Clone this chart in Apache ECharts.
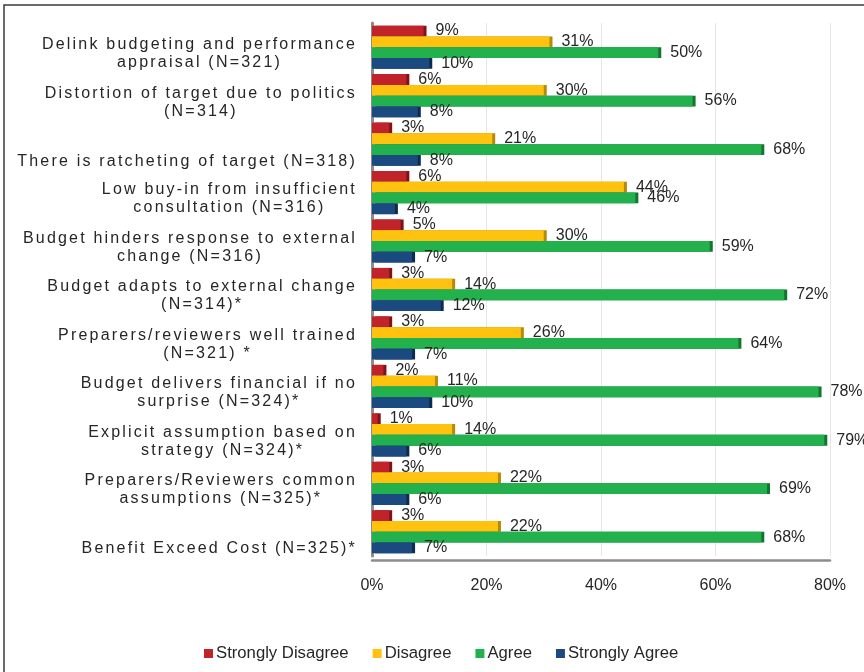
<!DOCTYPE html>
<html>
<head>
<meta charset="utf-8">
<script src="https://cdn.jsdelivr.net/npm/echarts@6/dist/echarts.min.js"></script>
<style>
html,body{margin:0;padding:0;background:#fff;}
#chart{width:864px;height:672px;}
</style>
</head>
<body>
<div id="chart"></div>
<script>
// ---- data ----
const categories = [
  "Delink budgeting and performance\nappraisal (N=321)",
  "Distortion of target due to politics\n(N=314)",
  "There is ratcheting of target (N=318)",
  "Low buy-in from insufficient\nconsultation (N=316)",
  "Budget hinders response to external\nchange (N=316)",
  "Budget adapts to external change\n(N=314)*",
  "Preparers/reviewers well trained\n(N=321) *",
  "Budget delivers financial if no\nsurprise (N=324)*",
  "Explicit assumption based on\nstrategy (N=324)*",
  "Preparers/Reviewers common\nassumptions (N=325)*",
  "Benefit Exceed Cost (N=325)*"
];
const seriesNames = ["Strongly Disagree", "Disagree", "Agree", "Strongly Agree"];
const stronglyDisagree = [9, 6, 3, 6, 5, 3, 3, 2, 1, 3, 3];
const disagree         = [31, 30, 21, 44, 30, 14, 26, 11, 14, 22, 22];
const agree            = [50, 56, 68, 46, 59, 72, 64, 78, 79, 69, 68];
const stronglyAgree    = [10, 8, 8, 4, 7, 12, 7, 10, 6, 6, 7];
const xTicks = [0, 20, 40, 60, 80];

// ---- letter-spaced category labels (canvas letterSpacing for one font family) ----
(function () {
  const P = CanvasRenderingContext2D.prototype;
  const setLS = function (ctx) {
    ctx.letterSpacing = /Liberation Sans/.test(ctx.font) ? '2.2px' : '0px';
  };
  const mt = P.measureText, ft = P.fillText, st = P.strokeText;
  P.measureText = function (t) { setLS(this); return mt.call(this, t); };
  P.fillText = function () { setLS(this); return ft.apply(this, arguments); };
  P.strokeText = function () { setLS(this); return st.apply(this, arguments); };
})();

const colors = ['#C1232B', '#FFC20E', '#22B14C', '#1B4A80'];
const capColors = ['#7E1418', '#B58A0A', '#127530', '#0E2B4F'];
const dataSets = [stronglyDisagree, disagree, agree, stronglyAgree];

const chart = echarts.init(document.getElementById('chart'), null, {renderer: 'canvas'});

const txt = {fontFamily: 'Liberation Sans', fontSize: 16, color: '#262626', align: 'center', lineHeight: 18};
const labelRich = {
  t: txt,
  sp2: {fontSize: 1, lineHeight: 13},
  sp1: {fontSize: 1, lineHeight: 34}
};

const option = {
  animation: false,
  textStyle: {fontFamily: 'Arial'},
  graphic: [{
    type: 'rect', silent: true, z: -1,
    shape: {x: 4, y: 5, width: 900, height: 700},
    style: {fill: 'none', stroke: '#3a3a3a', lineWidth: 1.5}
  }],
  legend: {
    data: seriesNames,
    left: 199, top: 640,
    itemWidth: 9, itemHeight: 9, itemGap: 24,
    icon: 'rect',
    textStyle: {fontFamily: 'Arial', fontSize: 16.7, color: '#262626', padding: [0, 0, 0, -2]}
  },
  grid: {left: 372, width: 458, top: 23, height: 533},
  xAxis: {
    type: 'value', min: xTicks[0], max: xTicks[xTicks.length - 1], interval: 20,
    offset: 4,
    axisLine: {show: true, lineStyle: {color: '#8c8c8c', width: 2.5}},
    axisTick: {show: false},
    axisLabel: {formatter: '{value}%', fontFamily: 'Arial', fontSize: 16, color: '#262626', margin: 18},
    splitLine: {show: true, lineStyle: {color: '#e6e6e6', width: 1}}
  },
  yAxis: {
    type: 'category', data: categories, inverse: true,
    axisLine: {show: true, lineStyle: {color: '#8c8c8c', width: 3}},
    axisTick: {show: false},
    axisLabel: {
      interval: 0, margin: 15,
      formatter: function (v) {
        const lines = v.split('\n');
        if (lines.length === 1) return '{sp1|}\n{t|' + lines[0] + '}';
        return '{sp2|}\n{t|' + lines[0] + '}\n{t|' + lines[1] + '}';
      },
      rich: labelRich
    }
  },
  series: dataSets.map(function (d, i) {
    return {
      name: seriesNames[i], type: 'bar', data: d,
      barGap: '0%', barCategoryGap: '11%',
      itemStyle: {
        color: colors[i],
        shadowColor: capColors[i], shadowOffsetX: 3, shadowOffsetY: 0, shadowBlur: 0
      },
      label: {
        show: true, position: 'right', distance: 12, formatter: '{c}%',
        fontFamily: 'Arial', fontSize: 16, color: '#262626', offset: [0, 1]
      },
      labelLayout: {hideOverlap: false}
    };
  })
};
chart.setOption(option);
</script>
</body>
</html>
